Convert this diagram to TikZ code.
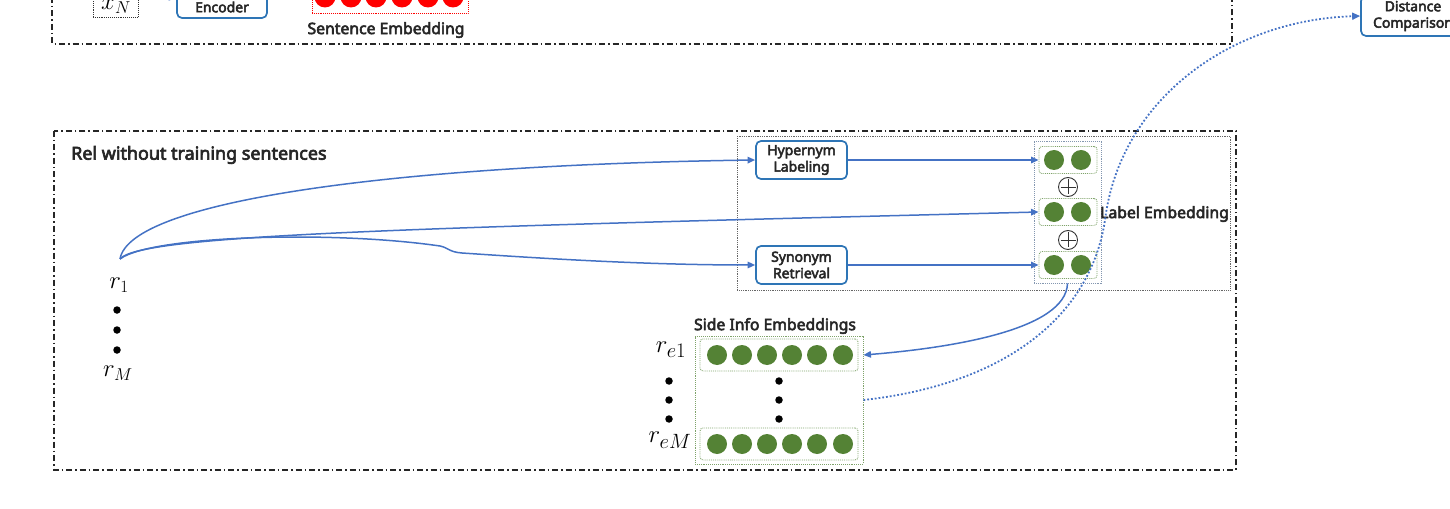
\documentclass[tikz,border=0pt]{standalone}
\usepackage{fontspec}
\setmainfont{Noto Sans}
\newfontfamily\semib{Noto Sans}[FakeBold=3.5]
\usetikzlibrary{arrows.meta}
\definecolor{lineblue}{HTML}{4472C4}
\definecolor{boxblue}{HTML}{2E75B6}
\definecolor{leafgreen}{HTML}{548235}
\definecolor{dotgreen}{HTML}{7FA36A}
\definecolor{dotblue}{HTML}{8497B0}
\definecolor{txtgray}{HTML}{262626}
\begin{document}
\begin{tikzpicture}[x=1bp,y=-1bp,
 sbox/.style={draw=boxblue, line width=1.7bp, rounded corners=5bp, align=center, inner sep=0, text=txtgray, font=\semib\fontsize{14}{16.5}\selectfont},
 gdot/.style={circle, fill=leafgreen, minimum size=20bp, inner sep=0},
 rdot/.style={circle, fill=red, minimum size=21bp, inner sep=0},
 gbox/.style={draw=dotgreen, densely dotted, line width=0.9bp, rounded corners=3bp, inner sep=0},
 bdot/.style={circle, fill=black, minimum size=7.5bp, inner sep=0},
 frame/.style={draw=black!85, line width=1.1bp, dash pattern=on 6bp off 3bp on 1.5bp off 3bp},
 barr/.style={draw=lineblue, line width=1.5bp, -{Triangle[length=7.5bp,width=6.5bp]}},
 darr/.style={draw=lineblue, line width=1.8bp, dotted, -{Triangle[length=8bp,width=7bp]}},
 hdr/.style={text=txtgray, inner sep=0, font=\semib\fontsize{15.8}{18}\selectfont},
 mth/.style={inner sep=0, font=\fontsize{23}{25}\selectfont},
 mthb/.style={inner sep=0, font=\fontsize{30}{32}\selectfont},
]
\useasboundingbox (0,0) rectangle (1450,509);

% ---------- top part (cut off) ----------
\draw[frame] (52,-30) rectangle (1232,44);
\node[draw=black!80, densely dotted, line width=0.9bp, minimum width=45bp, minimum height=36bp, inner sep=0] (xbox) at (115.5,-1) {};
\node[mth] (xN) at (116,6) {$x_N$};
\node[sbox, minimum width=90bp, minimum height=44bp] (enc) at (222,-4) {};
\node[text=txtgray, inner sep=0, font=\semib\fontsize{14}{16}\selectfont] (enctxt) at (222,7) {Encoder};
\node[draw=red, densely dotted, line width=0.9bp, minimum width=156bp, minimum height=40bp, inner sep=0] (redbox) at (390,-7) {};
\foreach \i/\x in {1/325,2/351,3/376,4/402,5/428,6/453}
  \node[rdot] (red\i) at (\x,-3) {};
\node[hdr] (setxt) at (386,30) {Sentence Embedding};
\draw[barr, draw=lineblue!60] (xbox) -- (enc);
\draw[barr, draw=lineblue!60] (enc) -- (redbox);
\node[sbox, minimum width=104bp, minimum height=40bp] (dist) at (1413,16) {Distance\\Comparison};

% ---------- bottom part ----------
\draw[frame] (54,131) rectangle (1236,470);
\node[hdr, anchor=west, font=\semib\fontsize{18}{20}\selectfont] (title) at (71,155) {Rel without training sentences};

\node[mth] (r1) at (119,285) {$r_1$};
\coordinate (src) at (120,259);
\node[bdot] (rd1) at (117,310) {};
\node[bdot] (rd2) at (117,330) {};
\node[bdot] (rd3) at (117,350) {};
\node[mth] (rM) at (118,373) {$r_M$};

\draw[black!60, densely dotted, line width=0.8bp] (737,136) rectangle (1230,290);
\node[sbox, minimum width=91bp, minimum height=38bp] (hyp) at (801.5,160) {Hypernym\\Labeling};
\node[sbox, minimum width=91bp, minimum height=38bp] (syn) at (801.5,265) {Synonym\\Retrieval};

\node[draw=dotblue, densely dotted, line width=0.9bp, minimum width=67bp, minimum height=142bp, inner sep=0] (lecol) at (1067.5,212) {};
\foreach \r/\y in {1/160,2/212,3/265}{
  \node[gbox, minimum width=58bp, minimum height=27bp] (le\r) at (1068,\y) {};
  \node[gdot] (le\r a) at (1054,\y) {};
  \node[gdot] (le\r b) at (1081,\y) {};
}
\foreach \o/\y in {1/187,2/240}{
  \node[circle, draw=black!80, line width=0.9bp, minimum size=19bp, inner sep=0] (op\o) at (1068,\y) {};
  \draw[black!80, line width=0.9bp] ([yshift=7.5bp]op\o.center) -- ([yshift=-7.5bp]op\o.center)
        ([xshift=-7.5bp]op\o.center) -- ([xshift=7.5bp]op\o.center);
}
\node[hdr, anchor=west] (letxt) at (1100,214) {Label Embedding};

\draw[barr] (hyp.east) -- (le1.west);
\draw[barr] (syn.east) -- (le3.west);
\draw[barr] (src) .. controls (130,200) and (400,165) .. (hyp.west);
\draw[barr] (src) .. controls (140,235) and (400,228) .. (le2.west);
\draw[barr] (src) .. controls (150,236) and (330,230) .. (440,246) .. controls (449,248) and (449,252) .. (462,253) .. controls (550,259) and (650,265) .. (syn.west);

% side info
\node[hdr] (sititle) at (775,326) {Side Info Embeddings};
\node[draw=dotgreen, densely dotted, line width=0.9bp, minimum width=168bp, minimum height=128bp, inner sep=0] (side) at (779,400) {};
\node[gbox, minimum width=158bp, minimum height=32bp] (s1) at (779,355) {};
\node[gbox, minimum width=158bp, minimum height=32bp] (sM) at (779,444) {};
\foreach \i/\x in {1/717,2/742,3/767,4/792,5/817,6/843}{
  \node[gdot] (s1c\i) at (\x,355) {};
  \node[gdot] (sMc\i) at (\x,444) {};
}
\node[bdot] (sd1) at (779,381) {};
\node[bdot] (sd2) at (779,400) {};
\node[bdot] (sd3) at (779,419) {};
\node[mthb] (re1) at (671,350) {$r_{e1}$};
\node[bdot] (ed1) at (669,381) {};
\node[bdot] (ed2) at (669,400) {};
\node[bdot] (ed3) at (669,419) {};
\node[mthb] (reM) at (670,440) {$r_{eM}$};

\draw[barr] (lecol.south) .. controls (1066,330) and (950,348) .. (side.east |- s1);
\draw[darr] (side.east) .. controls (1000,385) and (1090,320) .. (1105,220) .. controls (1120,100) and (1230,20) .. (dist.west);
\end{tikzpicture}
\end{document}
